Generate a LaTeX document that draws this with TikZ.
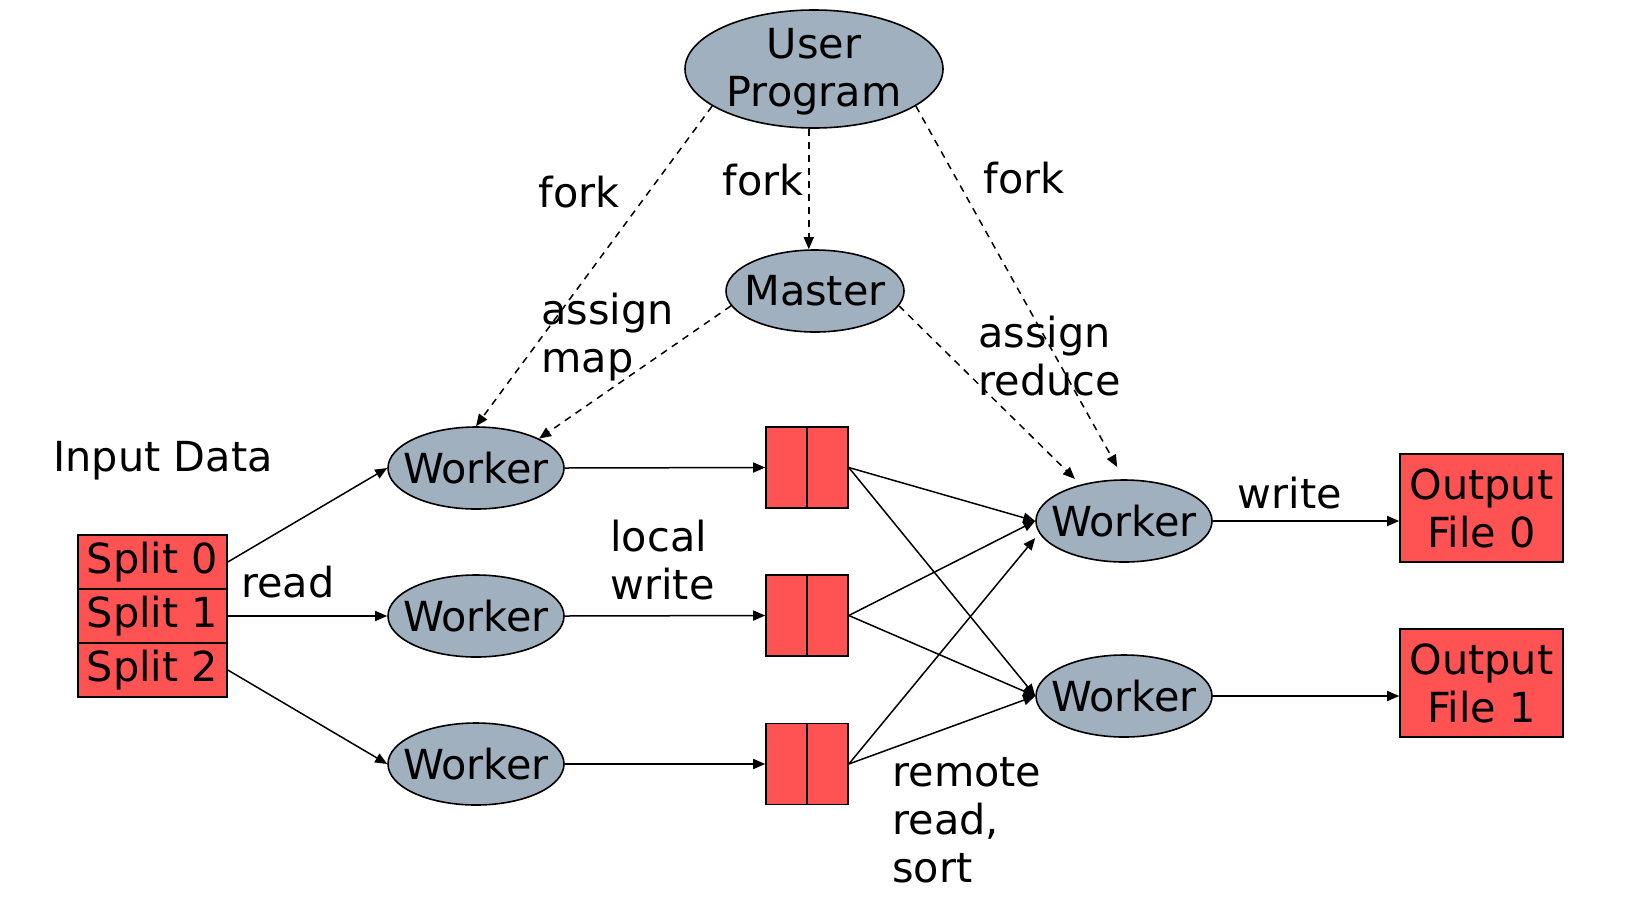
\documentclass[tikz,border=0pt]{standalone}
\usepackage{fontspec}
\setmainfont{DejaVu Sans}
\usetikzlibrary{shapes.geometric,arrows.meta,calc}
\definecolor{nodegray}{RGB}{161,176,191}
\definecolor{boxred}{RGB}{255,82,82}
\begin{document}
\begin{tikzpicture}[x=0.5pt,y=-0.5pt,
  font=\fontsize{20.7}{24}\selectfont,
  ell/.style={ellipse, draw, fill=nodegray, line width=0.8pt, inner sep=0pt},
  worker/.style={ell, minimum width=88pt, minimum height=41pt},
  redbox/.style={draw, fill=boxred, line width=0.8pt, inner sep=0pt},
  split/.style={redbox, minimum width=74.5pt, minimum height=27pt},
  half/.style={redbox, minimum width=41pt, minimum height=40.5pt},
  outbox/.style={redbox, minimum width=81.5pt, minimum height=54pt, align=center},
  arr/.style={-{Triangle[length=6pt,width=5pt]}, line width=0.75pt},
  darr/.style={arr, dash pattern=on 3.5pt off 3pt},
  lbl/.style={inner sep=0pt, align=left}
]
\useasboundingbox (0,0) rectangle (1642,905);

% ellipses
\node[ell, minimum width=129pt, minimum height=59pt] (up) at (814,69) {};
\node[inner sep=0pt, align=center] (uptext) at ($(up.center)+(0,3)$) {User\\Program};
\node[ell, minimum width=89pt, minimum height=41pt] (master) at (815,291) {\makebox[0pt]{Master}};
\node[worker] (w1) at (476,468) {\makebox[0pt]{Worker}};
\node[worker] (w2) at (476,616) {\makebox[0pt]{Worker}};
\node[worker] (w3) at (476,764) {\makebox[0pt]{Worker}};
\node[worker] (r1) at (1124,521) {\makebox[0pt]{Worker}};
\node[worker] (r2) at (1124,696) {\makebox[0pt]{Worker}};

% splits
\node[split] (s0) at (152.5,562) {Split 0};
\node[split] (s1) at (152.5,616) {Split 1};
\node[split] (s2) at (152.5,670) {Split 2};

% intermediate files
\node[half] (b1) at (807,467.5) {};
\node[half] (b2) at (807,615.5) {};
\node[half] (b3) at (807,764) {};
\foreach \b in {b1,b2,b3} \draw[line width=0.8pt] (\b.north) -- (\b.south);

% output files
\node[outbox] (o0) at (1481.5,508) {Output\\File 0};
\node[outbox] (o1) at (1481.5,683) {Output\\File 1};

% labels
\node[lbl] (lin) at (163,461) {Input Data};
\node[lbl] (lread) at (288,582) {read};
\node[lbl, anchor=west] (llocal) at (610,560) {local\\write};
\node[lbl, anchor=west] (lremote) at (892,820) {remote\\read,\\sort};
\node[lbl] (lwrite) at (1290,493) {write};
\node[lbl] (lf1) at (579,192) {fork};
\node[lbl] (lf2) at (763,180) {fork};
\node[lbl] (lf3) at (1024,178) {fork};
\node[lbl, anchor=west] (lmap) at (541,337) {assign\\map};
\node[lbl, anchor=west] (lred) at (978,356) {assign\\reduce};

% solid connectors
\draw[arr] (s0.east) -- (w1.west);
\draw[arr] (s1.east) -- (w2.west);
\draw[arr] (s2.east) -- (w3.west);
\draw[arr] (w1.east) -- (b1.west);
\draw[arr] (w2.east) -- (b2.west);
\draw[arr] (w3.east) -- (b3.west);
\draw[arr] (b1.east) -- (r1.west);
\draw[arr] (b1.east) -- (r2.west);
\draw[arr] (b2.east) -- (r1.west);
\draw[arr] (b2.east) -- (r2.west);
\draw[arr] (b3.east) -- ($(r1.west)+(0,17)$);
\draw[arr] (b3.east) -- (r2.west);
\draw[arr] (r1.east) -- (r1.east -| o0.west);
\draw[arr] (r2.east) -- (r2.east -| o1.west);

% dashed connectors
\draw[darr] (up.200) -- (w1.north);
\draw[darr] (up.265) -- (up.265 |- master.north);
\draw[darr, shorten >=7pt] (up.340) -- (r1.north);
\draw[darr] (master.190) -- (w1.25);
\draw[darr, shorten >=4pt] (master.350) -- (r1.140);
\end{tikzpicture}
\end{document}
